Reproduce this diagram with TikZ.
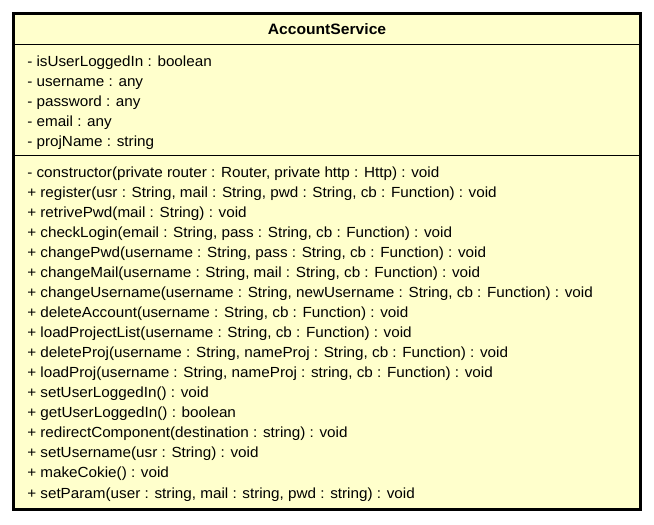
\documentclass[tikz,border=0pt]{standalone}
\usepackage{fontspec}
\setmainfont{Liberation Sans}[FakeStretch=1.04]
\definecolor{classfill}{HTML}{FFFFCC}

\begin{document}
\begin{tikzpicture}[x=0.75pt, y=-0.75pt, every node/.style={anchor=base west, inner sep=0pt, font=\fontsize{11}{13}\selectfont}]
  \useasboundingbox (0,0) rectangle (654,525);
  \draw[fill=classfill, line width=2.25pt] (13.5,13.5) rectangle (640.5,509.5);
  \draw[line width=0.75pt] (13.5,44) -- (640.5,44);
  \draw[line width=0.75pt] (13.5,155) -- (640.5,155);
  \node[anchor=base, font=\fontsize{11.3}{13}\selectfont\bfseries] (title) at (327,34) {AccountService};
  \node (a1) at (27,66.7) {- isUserLoggedIn : boolean};
  \node (a2) at (27,86.5) {- username : any};
  \node (a3) at (27,106.3) {- password : any};
  \node (a4) at (27,126.1) {- email : any};
  \node (a5) at (27,146) {- projName : string};
  \node (m1) at (27,177) {- constructor(private router : Router, private http : Http) : void};
  \node (m2) at (27,197.06) {+ register(usr : String, mail : String, pwd : String, cb : Function) : void};
  \node (m3) at (27,217.12) {+ retrivePwd(mail : String) : void};
  \node (m4) at (27,237.18) {+ checkLogin(email : String, pass : String, cb : Function) : void};
  \node (m5) at (27,257.24) {+ changePwd(username : String, pass : String, cb : Function) : void};
  \node (m6) at (27,277.3) {+ changeMail(username : String, mail : String, cb : Function) : void};
  \node (m7) at (27,297.36) {+ changeUsername(username : String, newUsername : String, cb : Function) : void};
  \node (m8) at (27,317.42) {+ deleteAccount(username : String, cb : Function) : void};
  \node (m9) at (27,337.48) {+ loadProjectList(username : String, cb : Function) : void};
  \node (m10) at (27,357.54) {+ deleteProj(username : String, nameProj : String, cb : Function) : void};
  \node (m11) at (27,377.6) {+ loadProj(username : String, nameProj : string, cb : Function) : void};
  \node (m12) at (27,397.66) {+ setUserLoggedIn() : void};
  \node (m13) at (27,417.72) {+ getUserLoggedIn() : boolean};
  \node (m14) at (27,437.78) {+ redirectComponent(destination : string) : void};
  \node (m15) at (27,457.84) {+ setUsername(usr : String) : void};
  \node (m16) at (27,477.9) {+ makeCokie() : void};
  \node (m17) at (27,498) {+ setParam(user : string, mail : string, pwd : string) : void};
\end{tikzpicture}
\end{document}
